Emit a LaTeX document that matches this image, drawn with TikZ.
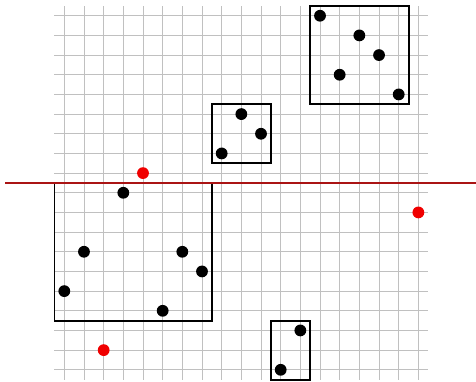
\documentclass[tikz,border=0pt]{standalone}
\usepackage{xcolor}
\usepackage{tikz}
\usetikzlibrary{fit}
\definecolor{ptgrid}{RGB}{192,192,192}
\definecolor{ptred}{RGB}{240,0,0}
\definecolor{ptcut}{RGB}{170,20,20}
\tikzset{
  gridline/.style={draw=ptgrid, line width=0.7pt, step=0.5cm},
  pt/.style={circle, fill=black, inner sep=0pt, outer sep=0pt, minimum size=0.3cm},
  qpt/.style={pt, fill=ptred},
  cell/.style={draw=black, line width=1.4pt, inner sep=0.1cm, outer sep=0pt},
  cut/.style={draw=ptcut, line width=1.4pt}
}

\begin{document}
\begin{tikzpicture}[x=0.5cm, y=-0.5cm]
  \useasboundingbox (-3.27,-0.80) rectangle (20.93,18.57);
  \draw[gridline] (-0.5,-0.5) grid (18.5,18.5);
  % points
  \foreach \n/\i/\j in {a1/13/0, a2/15/1, a3/16/2, a4/14/3, a5/17/4,
                        b1/9/5, b2/10/6, b3/8/7,
                        c1/3/9, c2/1/12, c3/6/12, c4/7/13, c5/0/14, c6/5/15,
                        d1/12/16, d2/11/18}
    \node[pt] (\n) at (\i,\j) {};
  \node[qpt] (q1) at (4,8) {};
  \node[qpt] (q2) at (2,17) {};
  \node[qpt] (q3) at (18,10) {};
  % boxes
  \node[cell, fit=(a1) (a5) (a2) (a4)] (boxa) {};
  \node[cell, fit=(b1) (b2) (b3)] (boxb) {};
  \node[cell, fit=(c1) (c2) (c4) (c5) (c6)] (boxc) {};
  \node[cell, fit=(d1) (d2)] (boxd) {};
  % splitting line
  \coordinate (cutl) at (-3,8.5);
  \coordinate (cutr) at (21,8.5);
  \draw[cut] (cutl) -- (cutr);
\end{tikzpicture}
\end{document}
